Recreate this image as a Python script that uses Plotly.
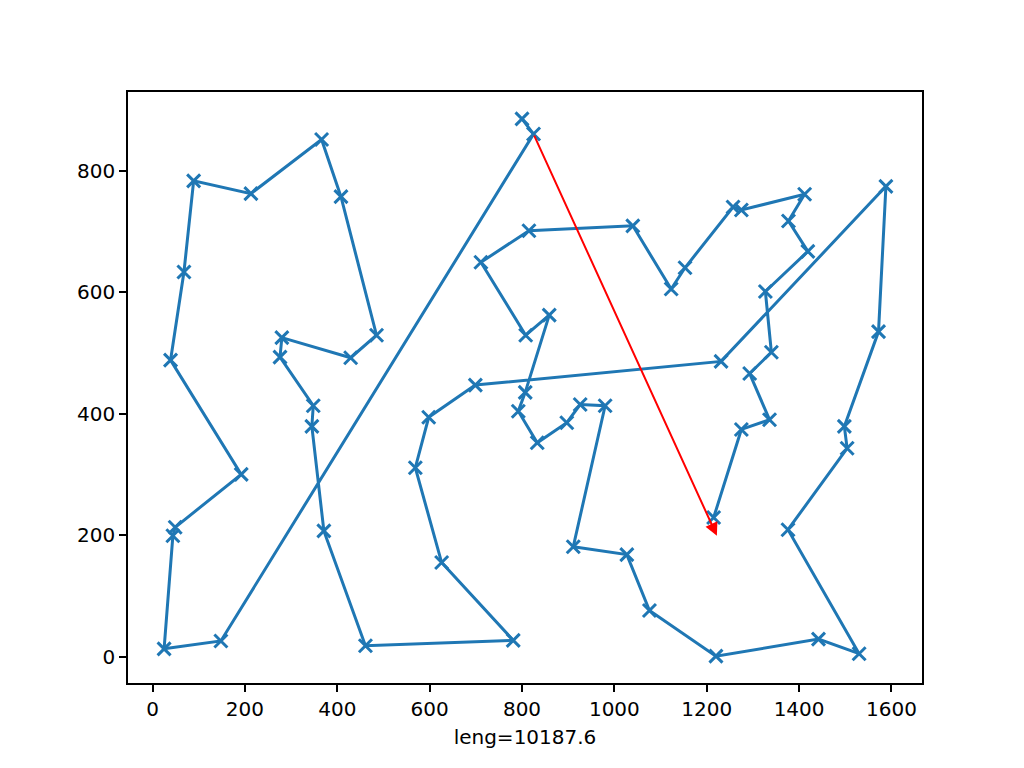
import plotly.graph_objects as go

# tour order
tour_x = [800, 825, 148, 25, 44, 49, 192, 39, 68, 89, 213, 366, 408, 485, 429, 280,
          276, 348, 345, 371, 461, 781, 626, 569, 598, 699, 1231, 1588, 1572, 1498,
          1504, 1376, 1530, 1442, 1220, 1076, 1027, 911, 980, 926, 897, 833, 792, 807,
          859, 808, 711, 815, 1040, 1123, 1153, 1257, 1275, 1412, 1377, 1419, 1327,
          1340, 1293, 1336, 1275, 1215]
tour_y = [885, 860, 26, 13, 199, 213, 300, 488, 633, 783, 762, 851, 757, 529, 492, 525,
          493, 413, 379, 207, 18, 27, 155, 311, 394, 447, 486, 774, 535, 379,
          343, 209, 5, 29, 1, 76, 168, 181, 413, 415, 385, 352, 404, 435,
          562, 529, 649, 701, 709, 605, 640, 740, 735, 761, 717, 667, 601,
          501, 466, 390, 374, 229]

# red arrow: tail and head
arrow_tail = (825, 860)
arrow_head = (1222, 199)

tour_length = 10187.6

x_ticks = [0, 200, 400, 600, 800, 1000, 1200, 1400, 1600]
y_ticks = [0, 200, 400, 600, 800]


def padded(vals, frac=0.05):
    lo, hi = min(vals), max(vals)
    span = hi - lo
    return [lo - frac * span, hi + frac * span]


blue = "#1f77b4"

fig = go.Figure()
fig.add_trace(go.Scatter(
    x=tour_x,
    y=tour_y,
    mode="lines+markers",
    line=dict(color=blue, width=3),
    marker=dict(symbol="x-thin", size=13, color=blue, line=dict(width=3, color=blue)),
    showlegend=False,
))

fig.add_annotation(
    x=arrow_head[0], y=arrow_head[1],
    ax=arrow_tail[0], ay=arrow_tail[1],
    xref="x", yref="y", axref="x", ayref="y",
    showarrow=True, arrowhead=2, arrowsize=1.3, arrowwidth=2,
    arrowcolor="red", text="",
)

axis_style = dict(
    showgrid=False, zeroline=False,
    showline=True, mirror=True, linecolor="black", linewidth=1.5,
    ticks="outside", ticklen=7, tickwidth=1.5, tickcolor="black",
    tickfont=dict(family="DejaVu Sans", size=20, color="black"),
)

fig.update_xaxes(range=padded(tour_x), tickvals=x_ticks,
                 title=dict(text=f"leng={tour_length}", font=dict(family="DejaVu Sans", size=20, color="black"),
                            standoff=10),
                 **axis_style)
fig.update_yaxes(range=padded(tour_y), tickvals=y_ticks, **axis_style)

# page body adds an 8px offset, so margins are shifted to compensate
fig.update_layout(
    width=1024, height=768,
    margin=dict(l=120, r=110, t=84, b=93),
    plot_bgcolor="white", paper_bgcolor="white",
    font=dict(family="DejaVu Sans"),
)

fig.write_html("out.html")
